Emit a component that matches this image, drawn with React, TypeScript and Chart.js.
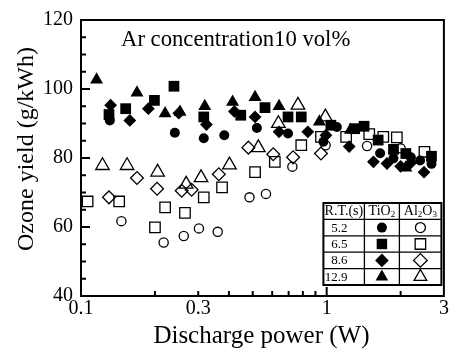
import React, { useEffect, useRef } from 'react';
import { Chart, registerables } from 'chart.js';

Chart.register(...registerables);

// ---- Data (discharge power W, ozone yield g/kWh) ----
// TiO2, residence time 5.2 s
const tio2Rt52Power = [0.131, 0.241, 0.316, 0.383, 0.52, 0.696, 0.97, 1.1, 1.65, 1.87, 2.2, 2.4, 2.67];
const tio2Rt52Yield = [90.9, 87.3, 85.7, 86.6, 88.7, 87.1, 84.7, 89.0, 81.4, 79.9, 80.2, 79.3, 78.3];
// TiO2, 6.5 s
const tio2Rt65Power = [0.13, 0.152, 0.199, 0.239, 0.316, 0.447, 0.561, 0.696, 0.788, 1.04, 1.3, 1.42, 1.62, 1.87, 2.1, 2.67];
const tio2Rt65Yield = [92.6, 94.3, 96.7, 100.8, 91.9, 92.4, 94.6, 91.9, 91.9, 89.5, 88.5, 89.2, 85.2, 82.5, 81.3, 80.5];
// TiO2, 8.6 s
const tio2Rt86Power = [0.132, 0.158, 0.188, 0.25, 0.324, 0.421, 0.511, 0.64, 0.838, 0.993, 1.235, 1.55, 1.76, 2.0, 2.2, 2.49];
const tio2Rt86Yield = [95.3, 90.9, 94.3, 93.0, 89.7, 93.5, 91.9, 87.6, 87.6, 86.6, 83.3, 78.9, 78.4, 77.6, 78.6, 75.9];
// TiO2, 12.9 s
const tio2Rt129Power = [0.1157, 0.169, 0.22, 0.253, 0.319, 0.414, 0.511, 0.64, 0.934, 1.25, 2.1];
const tio2Rt129Yield = [102.7, 98.9, 92.9, 93.3, 95.0, 96.2, 97.6, 95.0, 90.5, 88.1, 77.2];
// Al2O3, 5.2 s
const al2o3Rt52Power = [0.146, 0.217, 0.262, 0.302, 0.36, 0.485, 0.566, 0.725, 0.99, 1.46, 2.0];
const al2o3Rt52Yield = [61.7, 55.5, 57.4, 59.6, 58.6, 68.6, 69.6, 77.5, 83.7, 83.5, 82.8];
// Al2O3, 6.5 s
const al2o3Rt65Power = [0.1064, 0.143, 0.2, 0.22, 0.265, 0.316, 0.375, 0.511, 0.615, 0.788, 0.948, 1.2, 1.49, 1.7, 1.93, 2.5];
const al2o3Rt65Yield = [67.4, 67.4, 59.9, 65.7, 64.1, 68.6, 71.5, 75.9, 78.9, 83.7, 86.1, 86.1, 86.9, 86.1, 86.0, 81.8];
// Al2O3, 8.6 s
const al2o3Rt86Power = [0.13, 0.169, 0.204, 0.257, 0.282, 0.364, 0.48, 0.606, 0.73, 0.948];
const al2o3Rt86Yield = [68.6, 74.2, 71.1, 70.5, 70.8, 75.3, 83.0, 81.1, 80.2, 81.3];
// Al2O3, 12.9 s
const al2o3Rt129Power = [0.1223, 0.154, 0.205, 0.268, 0.308, 0.402, 0.527, 0.636, 0.764, 0.988];
const al2o3Rt129Yield = [77.8, 77.8, 75.9, 72.4, 74.3, 78.0, 83.0, 90.0, 95.3, 91.9];

const xTickValues = [0.1, 0.3, 1, 3];
const xMinorValues = [0.2, 0.3, 0.4, 0.5, 0.6, 0.7, 0.8, 0.9, 2];
const xMajorValues = [1];
const yTickValues = [40, 60, 80, 100, 120];
const yMinorValues = [45, 50, 55, 65, 70, 75, 85, 90, 95, 105, 110, 115];
const yMajorValues = [60, 80, 100];

const rtLabels = ['5.2', '6.5', '8.6', '12.9'];
const annotationText = 'Ar concentration10 vol%';
const xTitle = 'Discharge power (W)';
const yTitle = 'Ozone yield (g/kWh)';

const SERIF = '"Liberation Serif", "Times New Roman", serif';

const zip = (xs: number[], ys: number[]) => xs.map((x, i) => ({ x, y: ys[i] }));

type Shape = 'circle' | 'rect' | 'rectRot' | 'triangle';

const styles: { shape: Shape; filledR: number; hollowR: number; lR: number }[] = [
  { shape: 'circle', filledR: 5, hollowR: 4.6, lR: 5 },
  { shape: 'rect', filledR: 7.6, hollowR: 7.4, lR: 7.4 },
  { shape: 'rectRot', filledR: 6.4, hollowR: 6.4, lR: 6.8 },
  { shape: 'triangle', filledR: 7.5, hollowR: 7.8, lR: 7.3 },
];

function drawMarker(ctx: CanvasRenderingContext2D, shape: Shape, x: number, y: number, r: number, filled: boolean) {
  ctx.beginPath();
  if (shape === 'circle') {
    ctx.arc(x, y, r, 0, Math.PI * 2);
  } else if (shape === 'rect') {
    const s = r * Math.SQRT1_2;
    ctx.rect(x - s, y - s, 2 * s, 2 * s);
  } else if (shape === 'rectRot') {
    ctx.moveTo(x - r, y);
    ctx.lineTo(x, y - r);
    ctx.lineTo(x + r, y);
    ctx.lineTo(x, y + r);
    ctx.closePath();
  } else {
    for (let i = 0; i < 3; i++) {
      const a = (i * 2 * Math.PI) / 3;
      const px = x + Math.sin(a) * r;
      const py = y - Math.cos(a) * r;
      if (i === 0) ctx.moveTo(px, py);
      else ctx.lineTo(px, py);
    }
    ctx.closePath();
  }
  if (filled) {
    ctx.fillStyle = '#000';
    ctx.fill();
  } else {
    ctx.lineWidth = 1.3;
    ctx.strokeStyle = '#000';
    ctx.stroke();
  }
}

const framePlugin = {
  id: 'framePlugin',
  afterDatasetsDraw(chart: any) {
    const { ctx, chartArea: a, scales } = chart;
    const xs = scales.x;
    const ys = scales.y;
    ctx.save();
    ctx.strokeStyle = '#000';
    ctx.lineWidth = 2;
    const line = (x1: number, y1: number, x2: number, y2: number) => {
      ctx.beginPath();
      ctx.moveTo(x1, y1);
      ctx.lineTo(x2, y2);
      ctx.stroke();
    };
    // inward ticks
    xMinorValues.forEach((v) => {
      const p = xs.getPixelForValue(v);
      line(p, a.bottom, p, a.bottom - 5);
    });
    xMajorValues.forEach((v) => {
      const p = xs.getPixelForValue(v);
      line(p, a.bottom, p, a.bottom - 9);
    });
    yMinorValues.forEach((v) => {
      const p = ys.getPixelForValue(v);
      line(a.left, p, a.left + 5, p);
    });
    yMajorValues.forEach((v) => {
      const p = ys.getPixelForValue(v);
      line(a.left, p, a.left + 9, p);
    });
    // frame
    ctx.strokeRect(a.left, a.top, a.right - a.left, a.bottom - a.top);

    // annotation
    ctx.fillStyle = '#000';
    ctx.font = `22.7px ${SERIF}`;
    ctx.textAlign = 'left';
    ctx.textBaseline = 'alphabetic';
    ctx.fillText(annotationText, a.left + 40, a.top + 25.5);

    // legend table
    const colW = [41, 35, 42];
    const rowH = 16.4;
    const tR = a.right - 2.5;
    const tB = a.bottom - 11;
    const tW = colW[0] + colW[1] + colW[2];
    const tL = tR - tW;
    const tT = tB - rowH * 5;
    ctx.fillStyle = '#fff';
    ctx.fillRect(tL, tT, tW, tB - tT);
    ctx.lineWidth = 1.3;
    for (let i = 1; i < 5; i++) line(tL, tT + rowH * i, tR, tT + rowH * i);
    line(tL + colW[0], tT, tL + colW[0], tB);
    line(tL + colW[0] + colW[1], tT, tL + colW[0] + colW[1], tB);
    ctx.lineWidth = 2;
    ctx.strokeRect(tL, tT, tW, tB - tT);

    ctx.fillStyle = '#000';
    ctx.textBaseline = 'middle';
    const hy = tT + rowH / 2 + 0.5;
    ctx.font = `14px ${SERIF}`;
    ctx.textAlign = 'center';
    ctx.fillText('R.T.(s)', tL + colW[0] / 2, hy);
    const c1 = tL + colW[0] + colW[1] / 2;
    const c2 = tL + colW[0] + colW[1] + colW[2] / 2;
    const drawChem = (parts: [string, boolean][], cx: number) => {
      const big = `14px ${SERIF}`;
      const small = `9px ${SERIF}`;
      let w = 0;
      parts.forEach(([t, sub]) => {
        ctx.font = sub ? small : big;
        w += ctx.measureText(t).width;
      });
      let x = cx - w / 2;
      ctx.textAlign = 'left';
      parts.forEach(([t, sub]) => {
        ctx.font = sub ? small : big;
        ctx.fillText(t, x, sub ? hy + 3 : hy);
        x += ctx.measureText(t).width;
      });
    };
    drawChem([['TiO', false], ['2', true]], c1);
    drawChem([['Al', false], ['2', true], ['O', false], ['3', true]], c2);

    ctx.font = `13px ${SERIF}`;
    ctx.textAlign = 'right';
    rtLabels.forEach((lab, i) => {
      const cy = tT + rowH * (i + 1.5);
      ctx.fillStyle = '#000';
      ctx.fillText(lab, tL + 24, cy + 0.5);
      drawMarker(ctx, styles[i].shape, c1, cy, styles[i].lR, true);
      drawMarker(ctx, styles[i].shape, c2, cy, styles[i].lR, false);
    });

    // axis titles
    ctx.fillStyle = '#000';
    ctx.textAlign = 'center';
    ctx.textBaseline = 'alphabetic';
    ctx.font = `25px ${SERIF}`;
    ctx.fillText(xTitle, (a.left + a.right) / 2 - 1, 343);
    ctx.save();
    ctx.translate(33, 149);
    ctx.rotate(-Math.PI / 2);
    ctx.font = `24px ${SERIF}`;
    ctx.fillText(yTitle, 0, 0);
    ctx.restore();

    ctx.restore();
  },
};

export default function App() {
  const ref = useRef<HTMLCanvasElement | null>(null);

  useEffect(() => {
    if (!ref.current) return;
    const filledSeries = [
      zip(tio2Rt52Power, tio2Rt52Yield),
      zip(tio2Rt65Power, tio2Rt65Yield),
      zip(tio2Rt86Power, tio2Rt86Yield),
      zip(tio2Rt129Power, tio2Rt129Yield),
    ];
    const hollowSeries = [
      zip(al2o3Rt52Power, al2o3Rt52Yield),
      zip(al2o3Rt65Power, al2o3Rt65Yield),
      zip(al2o3Rt86Power, al2o3Rt86Yield),
      zip(al2o3Rt129Power, al2o3Rt129Yield),
    ];
    const datasets: any[] = [];
    filledSeries.forEach((d, i) => {
      datasets.push({
        label: `TiO2 ${rtLabels[i]} s`,
        data: d,
        pointStyle: styles[i].shape,
        pointRadius: styles[i].filledR,
        backgroundColor: '#000',
        borderColor: '#000',
        borderWidth: 0,
      });
    });
    hollowSeries.forEach((d, i) => {
      datasets.push({
        label: `Al2O3 ${rtLabels[i]} s`,
        data: d,
        pointStyle: styles[i].shape,
        pointRadius: styles[i].hollowR,
        backgroundColor: 'rgba(0,0,0,0)',
        borderColor: '#000',
        borderWidth: 1.3,
      });
    });

    const tickFont = { family: SERIF, size: 20 };
    const chart = new Chart(ref.current, {
      type: 'scatter',
      data: { datasets },
      options: {
        responsive: false,
        animation: false,
        devicePixelRatio: 1,
        layout: { padding: { top: 20, right: 6, left: 0, bottom: 0 } },
        plugins: { legend: { display: false }, tooltip: { enabled: false } },
        scales: {
          x: {
            type: 'logarithmic',
            min: 0.1,
            max: 3,
            grid: { display: false, drawTicks: false },
            border: { display: false },
            ticks: {
              color: '#000',
              font: tickFont,
              padding: 1,
              autoSkip: false,
              maxRotation: 0,
              callback: (v: any) => String(v),
            },
            afterBuildTicks: (s: any) => {
              s.ticks = xTickValues.map((v) => ({ value: v }));
            },
            afterFit: (s: any) => {
              s.height = 53;
            },
          },
          y: {
            type: 'linear',
            min: 40,
            max: 120,
            grid: { display: false, drawTicks: false },
            border: { display: false },
            ticks: { color: '#000', font: tickFont, padding: 8 },
            afterBuildTicks: (s: any) => {
              s.ticks = yTickValues.map((v) => ({ value: v }));
            },
            afterFit: (s: any) => {
              s.width = 81;
            },
          },
        },
      } as any,
      plugins: [framePlugin],
    });
    return () => chart.destroy();
  }, []);

  return (
    <canvas
      ref={ref}
      width={453}
      height={349}
      style={{ position: 'fixed', left: 0, top: 0, display: 'block' }}
    />
  );
}
